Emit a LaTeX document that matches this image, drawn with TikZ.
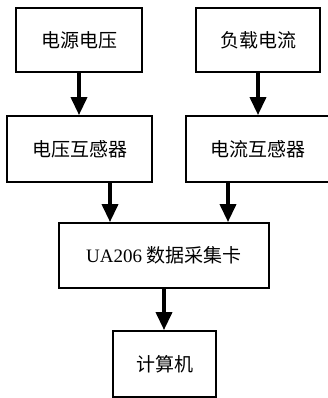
\documentclass[tikz,border=0pt]{standalone}
\usepackage{fontspec}
\setmainfont{Liberation Serif}
\newfontfamily\cjk{Noto Sans CJK SC}
\usetikzlibrary{arrows.meta}
\begin{document}
\begin{tikzpicture}[x=1pt,y=-1pt,
  blk/.style={draw=black,line width=1.8pt,inner sep=0pt,font=\fontsize{19}{22}\selectfont},
  arr/.style={line width=3.6pt,-{Triangle[width=16pt,length=18pt]}}]
\clip (0,0) rectangle (328,398);
\fill[white] (0,0) rectangle (328,398);
\node[blk,minimum width=126pt,minimum height=64pt] (n1) at (79,40) {\cjk 电源电压};
\node[blk,minimum width=124pt,minimum height=64pt] (n2) at (258,40) {\cjk 负载电流};
\node[blk,minimum width=145pt,minimum height=66pt] (n3) at (79.5,149) {\cjk 电压互感器};
\node[blk,minimum width=144pt,minimum height=66pt] (n4) at (258,149) {\cjk 电流互感器};
\node[blk,minimum width=210pt,minimum height=65pt] (n5) at (164,255.5) {UA206 {\cjk 数据采集卡}};
\node[blk,minimum width=103pt,minimum height=66pt] (n6) at (164.5,364) {\cjk 计算机};
\draw[arr] (n1.south) -- (n1.south |- n3.north);
\draw[arr] (n2.south) -- (n2.south |- n4.north);
\draw[arr] ([xshift=30.5pt]n3.south) -- ([xshift=-54pt]n5.north);
\draw[arr] ([xshift=-30pt]n4.south) -- ([xshift=64pt]n5.north);
\draw[arr] (n5.south) -- (n5.south |- n6.north);
\end{tikzpicture}
\end{document}
